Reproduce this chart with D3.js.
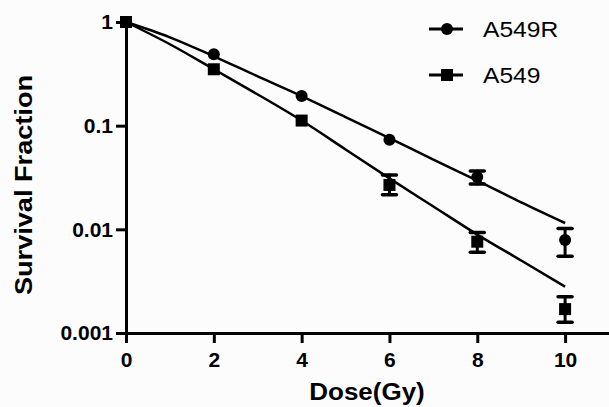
<!DOCTYPE html>
<html>
<head>
<meta charset="utf-8">
<script src="https://cdn.jsdelivr.net/npm/d3@7"></script>
<style>
body { margin: 0; background: #fcfcfc; }
text { font-family: "Liberation Sans", Arial, sans-serif; fill: #000; }
.axis path, .axis line { stroke: #000; stroke-width: 3; }
.axis text { font-size: 21px; font-weight: bold; }
</style>
</head>
<body>
<div id="chart"></div>
<script>
// measured points (survival fraction vs dose)
var doses = [0, 2, 4, 6, 8, 10];
var a549r = [1, 0.489, 0.193, 0.073, 0.032, 0.0079];
var a549rLow = [1, 0.489, 0.193, 0.073, 0.0274, 0.0055];
var a549rHigh = [1, 0.489, 0.193, 0.073, 0.0366, 0.0102];
var a549 = [1, 0.35, 0.112, 0.0268, 0.0076, 0.0017];
var a549Low = [1, 0.35, 0.112, 0.0215, 0.006, 0.00127];
var a549High = [1, 0.35, 0.112, 0.0335, 0.0093, 0.00224];

// fitted curves
var fitDoses = [0, 1, 2, 3, 4, 5, 6, 7, 8, 9, 10];
var a549rFit = [1, 0.712, 0.467, 0.299, 0.193, 0.121, 0.076, 0.047, 0.0295, 0.0182, 0.0115];
var a549Fit = [1, 0.61, 0.35, 0.2, 0.112, 0.059, 0.031, 0.0166, 0.0089, 0.005, 0.0028];

var xTicks = [0, 2, 4, 6, 8, 10];
var yTicks = [1, 0.1, 0.01, 0.001];
var yTickLabels = ["1", "0.1", "0.01", "0.001"];
var seriesNames = ["A549R", "A549"];

var W = 609, H = 407;

var svg = d3.select("#chart").append("svg")
    .attr("width", W)
    .attr("height", H);

var xScale = d3.scaleLinear()
    .domain([0, 11])
    .range([126, 609]);

var yScale = d3.scaleLog()
    .domain([0.001, 1])
    .range([333, 22]);

var xAxis = d3.axisBottom(xScale)
    .tickValues(xTicks)
    .tickSize(10)
    .tickSizeOuter(0)
    .tickPadding(9)
    .tickFormat(d3.format("d"));

var yAxis = d3.axisLeft(yScale)
    .tickValues(yTicks)
    .tickSize(10)
    .tickSizeOuter(0)
    .tickPadding(3)
    .tickFormat(function(d, i) {
        return yTickLabels[i];
    });

svg.append("g")
    .attr("class", "x axis")
    .attr("transform", "translate(0," + 333 + ")")
    .call(xAxis);

svg.append("g")
    .attr("class", "y axis")
    .attr("transform", "translate(" + 126 + ",0)")
    .call(yAxis);

// fit lines
var line = d3.line()
    .x(function(d) { return xScale(d[0]); })
    .y(function(d) { return yScale(d[1]); })
    .curve(d3.curveMonotoneX);

[a549rFit, a549Fit].forEach(function(fit) {
    svg.append("path")
        .datum(fitDoses.map(function(d, i) { return [d, fit[i]]; }))
        .attr("fill", "none")
        .attr("stroke", "#000")
        .attr("stroke-width", 2.5)
        .attr("d", line);
});

// error bars (only where the error is larger than the marker)
function errorBars(low, high) {
    var g = svg.append("g")
        .attr("stroke", "#000")
        .attr("stroke-linecap", "round");
    doses.forEach(function(d, i) {
        if (low[i] == high[i]) return;
        var x = xScale(d);
        g.append("line")
            .attr("x1", x).attr("x2", x)
            .attr("y1", yScale(low[i])).attr("y2", yScale(high[i]))
            .attr("stroke-width", 3);
        [low[i], high[i]].forEach(function(v) {
            g.append("line")
                .attr("x1", x - 7).attr("x2", x + 7)
                .attr("y1", yScale(v)).attr("y2", yScale(v))
                .attr("stroke-width", 3.5);
        });
    });
}
errorBars(a549rLow, a549rHigh);
errorBars(a549Low, a549High);

// markers
svg.append("g").selectAll("circle")
    .data(a549r)
    .enter().append("circle")
    .attr("cx", function(d, i) { return xScale(doses[i]); })
    .attr("cy", function(d) { return yScale(d); })
    .attr("r", 6)
    .attr("fill", "#000");

svg.append("g").selectAll("rect")
    .data(a549)
    .enter().append("rect")
    .attr("x", function(d, i) { return xScale(doses[i]) - 6; })
    .attr("y", function(d) { return yScale(d) - 6; })
    .attr("width", 12)
    .attr("height", 12)
    .attr("fill", "#000");

// axis titles
svg.append("text")
    .attr("transform", "translate(367,400) scale(1.13,1)")
    .attr("text-anchor", "middle")
    .style("font-size", "23px")
    .style("font-weight", "bold")
    .text("Dose(Gy)");

svg.append("text")
    .attr("transform", "translate(32,185) rotate(-90) scale(1.18,1)")
    .attr("text-anchor", "middle")
    .style("font-size", "23px")
    .style("font-weight", "bold")
    .text("Survival Fraction");

// legend
var legend = svg.append("g");
seriesNames.forEach(function(name, i) {
    var cy = 29 + i * 46;
    legend.append("line")
        .attr("x1", 429).attr("x2", 463)
        .attr("y1", cy).attr("y2", cy)
        .attr("stroke", "#000")
        .attr("stroke-width", 3);
    if (i == 0) {
        legend.append("circle")
            .attr("cx", 447).attr("cy", cy).attr("r", 6)
            .attr("fill", "#000");
    } else {
        legend.append("rect")
            .attr("x", 441).attr("y", cy - 6)
            .attr("width", 12).attr("height", 12)
            .attr("fill", "#000");
    }
    legend.append("text")
        .attr("transform", "translate(483," + (cy + 8) + ") scale(1.12,1)")
        .style("font-size", "22px")
        .text(name);
});
</script>
</body>
</html>
